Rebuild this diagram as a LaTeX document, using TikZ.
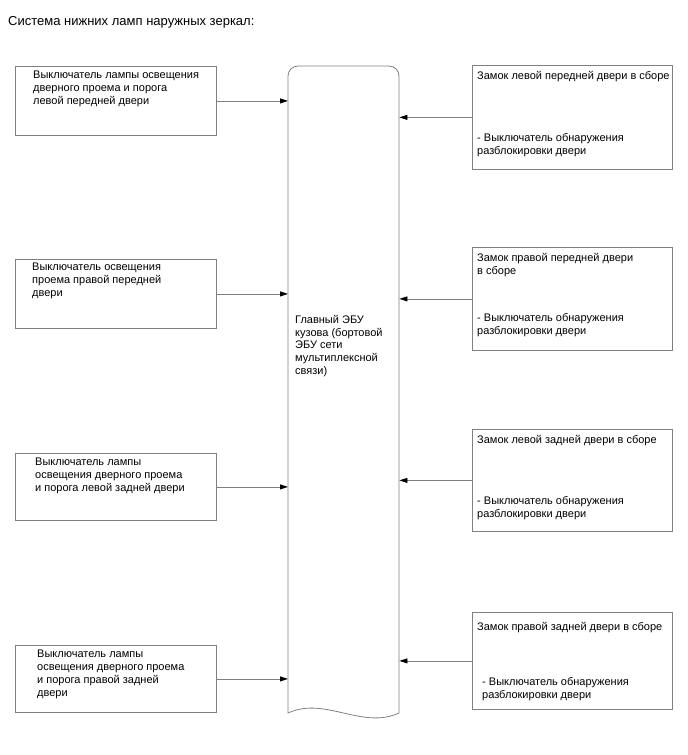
\documentclass[tikz,border=0pt]{standalone}
\usepackage{fontspec}
\setmainfont{Liberation Sans}
\usetikzlibrary{arrows.meta, positioning}
\definecolor{linegray}{RGB}{128,128,128}

\begin{document}
\begin{tikzpicture}[x=1pt, y=-1pt,
  box/.style={draw=linegray, line width=0.8pt, inner sep=0pt, anchor=north west},
  lbox/.style={box, minimum width=201pt},
  rbox/.style={box, minimum width=200pt},
  txt/.style={anchor=north west, inner sep=0pt, align=left, font=\fontsize{11}{12.8}\selectfont},
  conn/.style={draw=linegray, line width=0.8pt, -{Triangle[length=8pt, width=5pt, color=black]}}]
% Система подсветки: выключатели и замки дверей -> главный ЭБУ кузова
\useasboundingbox (0,0) rectangle (688,755);

\node[anchor=base west, inner sep=0pt, font=\fontsize{13}{15}\selectfont] (title) at (8,25.7) {Система нижних ламп наружных зеркал:};

% левые блоки
\node[lbox, minimum height=69pt] (l1) at (15,66) {};
\node[lbox, minimum height=69pt] (l2) at (15,259) {};
\node[lbox, minimum height=67pt] (l3) at (15,453) {};
\node[lbox, minimum height=67pt] (l4) at (15,645) {};
\node[txt] (l1t) at (33,71) {Выключатель лампы освещения\\дверного проема и порога\\левой передней двери};
\node[txt] (l2t) at (32,263) {Выключатель освещения\\проема правой передней\\двери};
\node[txt] (l3t) at (35,458) {Выключатель лампы\\освещения дверного проема\\и порога левой задней двери};
\node[txt] (l4t) at (37,650) {Выключатель лампы\\освещения дверного проема\\и порога правой задней\\двери};

% правые блоки
\node[rbox, minimum height=104pt] (r1) at (472,65) {};
\node[rbox, minimum height=103pt] (r2) at (472,247) {};
\node[rbox, minimum height=102pt] (r3) at (472,429) {};
\node[rbox, minimum height=97pt] (r4) at (472,612) {};
\node[txt] (r1t) at (477,71) {Замок левой передней двери в сборе};
\node[txt] (r1s) at (477,133) {- Выключатель обнаружения\\разблокировки двери};
\node[txt] (r2t) at (477,253) {Замок правой передней двери\\в сборе};
\node[txt] (r2s) at (477,313) {- Выключатель обнаружения\\разблокировки двери};
\node[txt] (r3t) at (477,435) {Замок левой задней двери в сборе};
\node[txt] (r3s) at (477,496) {- Выключатель обнаружения\\разблокировки двери};
\node[txt] (r4t) at (477,622) {Замок правой задней двери в сборе};
\node[txt] (r4s) at (482,677) {- Выключатель обнаружения\\разблокировки двери};

% ЭБУ
\node[minimum width=111pt, minimum height=647pt, inner sep=0pt, anchor=north west] (ecu) at (288,66) {};
\draw[draw=linegray, line width=0.8pt] (288,713) [rounded corners=10pt] -- (288,66) -- (399,66) -- (399,90) [sharp corners] -- (399,713) .. controls (362,730) and (325,696) .. (288,713) -- cycle;
\node[txt] (ecut) at (295,315) {Главный ЭБУ\\кузова (бортовой\\ЭБУ сети\\мультиплексной\\связи)};

\draw[conn] (l1.east) -- (l1.east -| ecu.west);
\draw[conn] (l2.east) -- (l2.east -| ecu.west);
\draw[conn] (l3.east) -- (l3.east -| ecu.west);
\draw[conn] (l4.east) -- (l4.east -| ecu.west);
\draw[conn] (r1.west) -- (r1.west -| ecu.east);
\draw[conn] (r2.west) -- (r2.west -| ecu.east);
\draw[conn] (r3.west) -- (r3.west -| ecu.east);
\draw[conn] (r4.west) -- (r4.west -| ecu.east);
\end{tikzpicture}
\end{document}
